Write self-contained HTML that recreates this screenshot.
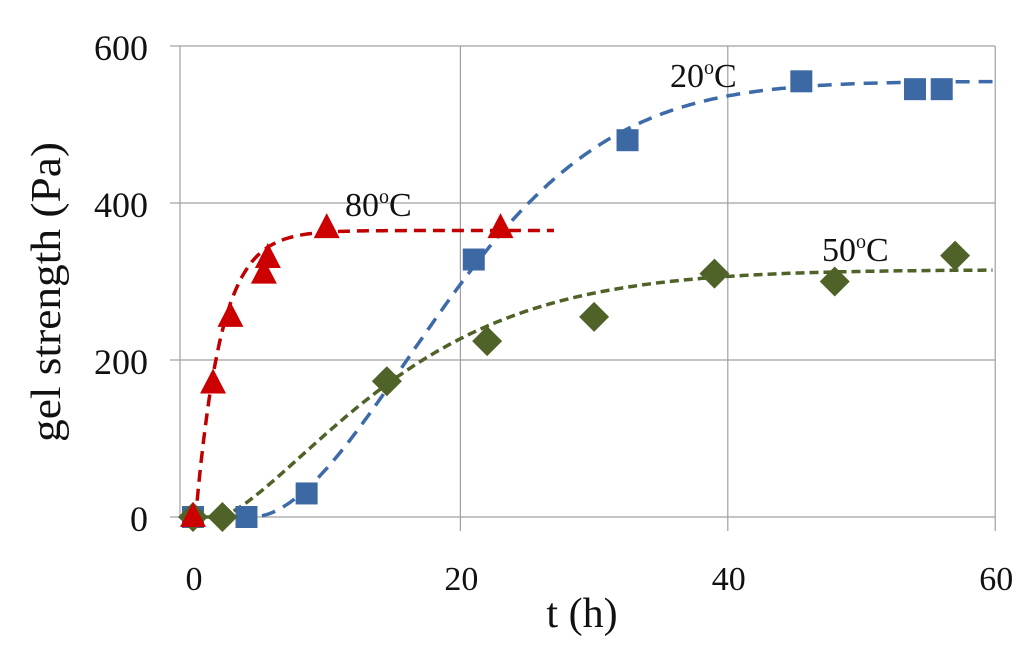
<!DOCTYPE html>
<html><head><meta charset="utf-8"><style>
html,body{margin:0;padding:0;background:#fff;}
svg{display:block;font-family:"Liberation Serif",serif;}
</style></head><body>
<svg id="chart" width="1024" height="647" viewBox="0 0 1024 647">
<g id="grid"></g>
<g id="axes"></g>
<g id="curves"></g>
<g id="marks"></g>
<g id="labels"></g>
</svg>
<script>
const xTicks=[0,20,40,60];
const yTicks=[0,200,400,600];
const t20=[0,4,8.5,21,32.5,45.5,54,56];
const g20=[0,0,30,328,480,555,545,545];
const t80=[0,1.5,2.8,5.3,5.6,10,23];
const g80=[0,170,255,310,330,368,368];
const t50=[0,2.2,14.5,22,30,39,48,57];
const g50=[0,0,173,224,255,310,300,333];
// fit model parameters: [t0, plateau, tau, exponent, tEnd]
const fit20=[4.5,555,18.0,1.8,60];
const fit80=[0.2,365,1.9,1.0,27];
const fit50=[2,315,15.1,1.39,60];
const X=t=>193+t*13.37;
const Y=v=>517-v*0.785;
const NS='http://www.w3.org/2000/svg';
function mk(tag,attrs,parent){const e=document.createElementNS(NS,tag);for(const k in attrs)e.setAttribute(k,attrs[k]);document.getElementById(parent).appendChild(e);return e;}
yTicks.forEach(v=>{if(v>0){const l=mk('line',{x1:180,x2:995,y1:Y(v),y2:Y(v),stroke:'#a0a0a0','stroke-width':1.2},'grid');

}});
xTicks.forEach(v=>{if(v>0){const l=mk('line',{x1:X(v),x2:X(v),y1:Y(600),y2:Y(0)+14,stroke:'#a0a0a0','stroke-width':1.2},'grid');

}});
const ya=mk('line',{x1:180,x2:180,y1:Y(600),y2:Y(0),stroke:'#a0a0a0','stroke-width':1.2},'axes');


const xa=mk('line',{x1:180,x2:995,y1:Y(0),y2:Y(0),stroke:'#a0a0a0','stroke-width':1.2},'axes');


yTicks.forEach(v=>{const t=mk('text',{x:148,y:Y(v)+14,'text-anchor':'end','font-size':36,fill:'#111'},'axes');t.textContent=v;


const tk=mk('line',{x1:170,x2:180,y1:Y(v),y2:Y(v),stroke:'#a0a0a0','stroke-width':1.2},'axes');

});
xTicks.forEach(v=>{const t=mk('text',{x:X(v)+1,y:590,'text-anchor':'middle','font-size':34,fill:'#111'},'axes');t.textContent=v;

});
const xt=mk('text',{x:582,y:627,'text-anchor':'middle','font-size':42,fill:'#111'},'axes');xt.textContent='t (h)';


const yt=mk('text',{x:0,y:0,'text-anchor':'middle','font-size':42,fill:'#111',textLength:300,lengthAdjust:'spacingAndGlyphs',transform:'translate(60,292) rotate(-90)'},'axes');yt.textContent='gel strength (Pa)';


function curve(p,color,dash,name){let d='';for(let t=0;t<=p[4];t+=0.2){const u=Math.max(0,t-p[0]);const v=p[1]*(1-Math.exp(-Math.pow(u/p[2],p[3])));d+=(d?'L':'M')+X(t).toFixed(1)+','+Y(v).toFixed(1);}
const e=mk('path',{d:d,fill:'none',stroke:color,'stroke-width':3.5,'stroke-dasharray':dash},'curves');

}
curve(fit20,'#3d6aa8','14 9','fit-curve-20c');
curve(fit50,'#4f6228','9 5','fit-curve-50c');
curve(fit80,'#c00000','12 7','fit-curve-80c');
t20.forEach((t,i)=>{const e=mk('rect',{x:X(t)-11,y:Y(g20[i])-11,width:22,height:22,fill:'#3c69a4'},'marks');

});
t50.forEach((t,i)=>{const cx=X(t),cy=Y(g50[i]);const e=mk('polygon',{points:`${cx},${cy-15} ${cx+15},${cy} ${cx},${cy+15} ${cx-15},${cy}`,fill:'#4f6228'},'marks');

});
t80.forEach((t,i)=>{const cx=X(t),cy=Y(g80[i]);const e=mk('polygon',{points:`${cx},${cy-15} ${cx+13},${cy+10} ${cx-13},${cy+10}`,fill:'#cc0000'},'marks');

});
function lab(x,y,n,name){const t=mk('text',{x:x,y:y,'font-size':34,fill:'#111'},'labels');t.innerHTML=n+'<tspan dy="-13" font-size="20">o</tspan><tspan dy="13">C</tspan>';

}
lab(670,87,'20','label-20c');
lab(345,216,'80','label-80c');
lab(822,261,'50','label-50c');
</script>
</body></html>
